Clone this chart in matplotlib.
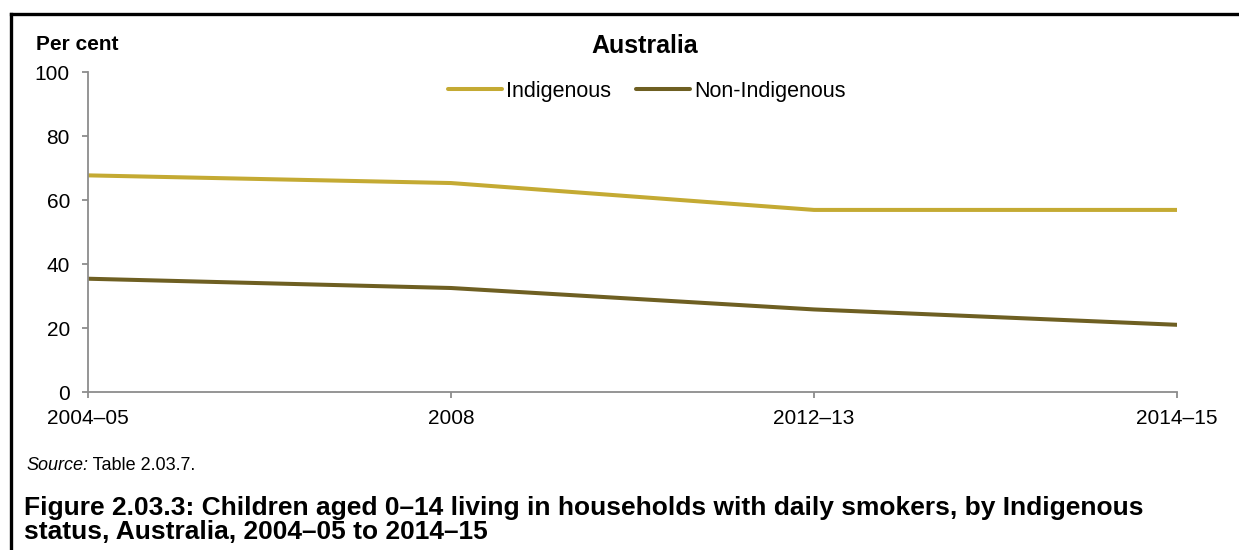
import matplotlib
matplotlib.use("Agg")
import matplotlib.pyplot as plt
from matplotlib.lines import Line2D

plt.rcParams['font.family'] = ['Liberation Sans', 'DejaVu Sans']

categories = ["2004\u201305", "2008", "2012\u201313", "2014\u201315"]
indigenous = [67.7, 65.3, 56.9, 56.9]
non_indigenous = [35.4, 32.5, 25.8, 21.0]
yticks = [0, 20, 40, 60, 80, 100]

col_ind = "#C4AA33"
col_non = "#6E5F22"
grey = "#8C8C8C"

W, H = 1239, 550
fig = plt.figure(figsize=(W/100, H/100), dpi=100)
ax = fig.add_axes([88/W, 1-392/H, (1177-88)/W, (392-72)/H])

x = list(range(len(categories)))
ax.plot(x, indigenous, color=col_ind, lw=2.9, solid_capstyle='round', label="Indigenous")
ax.plot(x, non_indigenous, color=col_non, lw=2.9, solid_capstyle='round', label="Non-Indigenous")

ax.set_xlim(0, len(categories)-1)
ax.set_ylim(0, 100)
ax.set_xticks(x)
ax.set_xticklabels(categories)
ax.set_yticks(yticks)
ax.set_yticklabels([str(v) for v in yticks])
for s in ['top', 'right']:
    ax.spines[s].set_visible(False)
for s in ['left', 'bottom']:
    ax.spines[s].set_color(grey)
    ax.spines[s].set_linewidth(1.3)
ax.tick_params(axis='both', colors=grey, labelcolor='black', labelsize=15, length=4.5, width=1.3, direction='out')
ax.tick_params(axis='y', pad=8.5)
ax.tick_params(axis='x', pad=8)

leg = fig.legend(loc='center', bbox_to_anchor=(647/W, 1-91/H), ncol=2, frameon=False,
                 fontsize=15.5, handlelength=2.5, handletextpad=0.22, columnspacing=1.15,
                 borderaxespad=0.0, borderpad=0.0)
for h in leg.get_lines():
    h.set_solid_capstyle('round')
    h.set_linewidth(2.9)

fig.text(644.5/W, 1-46/H, "Australia", ha='center', va='center', fontsize=18, fontweight='bold')
fig.text(36/W, 1-45/H, "Per cent", ha='left', va='center', fontsize=15, fontweight='bold')

src = fig.text(26/W, 1-470/H, "Source:", ha='left', va='baseline', fontsize=13, style='italic')
fig.text(0, 0, " Table 2.03.7.", ha='left', va='baseline', fontsize=13,
         transform=matplotlib.transforms.offset_copy(fig.transFigure, fig=fig, x=0, y=0))
# position the non-italic part right after the italic part
fig.texts[-1].remove()
plt.annotate(" Table 2.03.7.", xy=(1, 0), xycoords=src, xytext=(0, 0), textcoords='offset points',
             ha='left', va='bottom', fontsize=13, annotation_clip=False)

fig.text(24/W, 1-515/H,
         "Figure 2.03.3: Children aged 0\u201314 living in households with daily smokers, by Indigenous",
         ha='left', va='baseline', fontsize=19, fontweight='bold')
fig.text(24/W, 1-539/H,
         "status, Australia, 2004\u201305 to 2014\u201315",
         ha='left', va='baseline', fontsize=19, fontweight='bold')

# partial frame (top and left edges)
fig.add_artist(Line2D([10.5/W, 1.0], [1-14/H, 1-14/H], color='black', lw=2.4, transform=fig.transFigure))
fig.add_artist(Line2D([10.5/W, 10.5/W], [0.0, 1-14/H], color='black', lw=2.4, transform=fig.transFigure))

fig.savefig("out.png", dpi=100)
